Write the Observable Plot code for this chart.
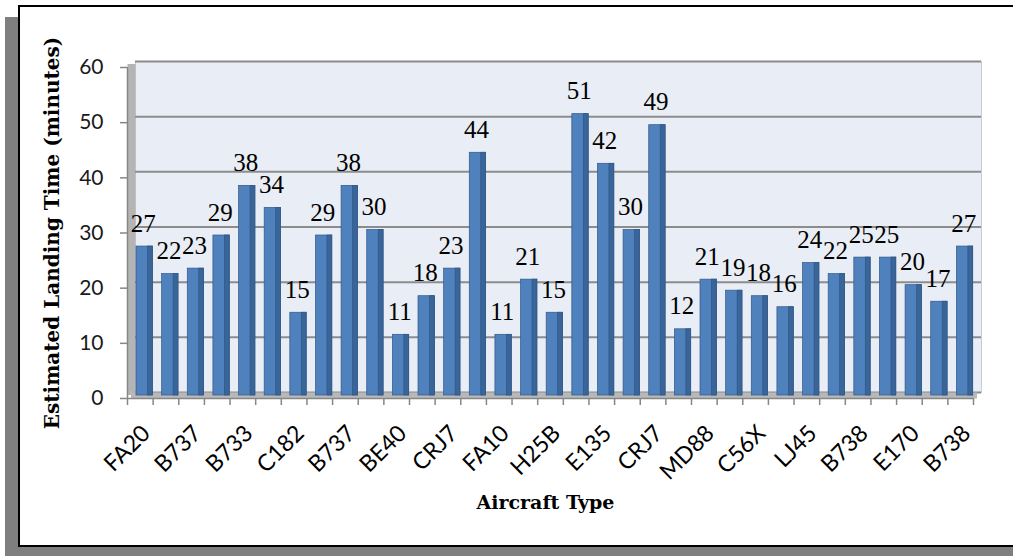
<!DOCTYPE html>
<html>
<head>
<meta charset="utf-8">
<script src="https://cdn.jsdelivr.net/npm/d3@7"></script>
<script src="https://cdn.jsdelivr.net/npm/@observablehq/plot@0.6"></script>
<style>
  html, body { margin: 0; padding: 0; background: #fff; }
  #wrap { position: relative; width: 1013px; height: 556px; overflow: hidden; }
  #shadow { position: absolute; left: 5px; top: 17px; width: 1200px; height: 700px; background: #7f7f7f; }
  #frame { position: absolute; left: 18px; top: 5px; width: 1200px; height: 538px; border: 2.5px solid #000; background: #fff; }
  #chart { position: absolute; left: 0; top: 0; }
</style>
</head>
<body>
<div id="wrap">
<div id="shadow"></div>
<div id="frame"></div>
<div id="chart"></div>
</div>
<script>
// Tick labels shown on every other bar (bars 1, 3, 5, ... 33)
const aircraftLabels = ["FA20","B737","B733","C182","B737","BE40","CRJ7","FA10","H25B","E135","CRJ7","MD88","C56X","LJ45","B738","E170","B738"];
// Estimated landing time (minutes), one value per bar
const landingMinutes = [27,22,23,29,38,34,15,29,38,30,11,18,23,44,11,21,15,51,42,30,49,12,21,19,18,16,24,22,25,25,20,17,27];
const yTicks = [0,10,20,30,40,50,60];
const yTitle = "Estimated Landing Time (minutes)";
const xTitle = "Aircraft Type";

const data = landingMinutes.map((v, i) => ({i, v}));
const n = landingMinutes.length;
const boundaryTicks = d3.range(n + 1);
const labelTicks = aircraftLabels.map((_, k) => 2 * k + 0.5);

const chart = Plot.plot({
  width: 1013,
  height: 556,
  marginLeft: 127,
  marginRight: 40,
  marginTop: 67,
  marginBottom: 158,
  style: {background: "transparent", fontFamily: "Lato", overflow: "visible"},
  x: {domain: [0, n], axis: null},
  y: {domain: [0, 60], axis: null},
  marks: [
    // back wall
    Plot.frame({fill: "#e9edf5", stroke: "#c9ccd2", dx: 8, dy: -6}),
    // side wall
    Plot.ruleX([0], {stroke: "#b4b4b4", strokeWidth: 8, dx: 4, dy: -3}),
    // gridlines on back wall
    Plot.ruleY(yTicks, {stroke: "#8c8c8c", strokeWidth: 2, dx: 8, dy: -6}),
    // floor
    Plot.ruleY([0], {stroke: "#b8b8b8", strokeWidth: 6, dx: 4, dy: -3}),
    // bars: front face
    Plot.rectY(data, {x1: "i", x2: d => d.i + 1, y: "v", insetLeft: 9, insetRight: 0.3, dy: -3,
      fill: "#4f81bd", stroke: "#2f578a", strokeWidth: 0.7}),
    // bars: side face
    Plot.rectY(data, {x1: "i", x2: d => d.i + 1, y: "v", insetLeft: 20.5, insetRight: 0.3, dy: -3,
      fill: "#3a6598", stroke: "#2f578a", strokeWidth: 0.7}),
    // axis lines
    Plot.ruleX([0], {stroke: "#868686", strokeWidth: 1.5}),
    Plot.ruleY([0], {stroke: "#868686", strokeWidth: 1.5}),
    Plot.axisY({ticks: yTicks, tickSize: 7, tickPadding: 17, fontSize: 21, fontFamily: "Lato",
      stroke: "#868686", strokeWidth: 1.5, fill: "#1a1a1a", label: null}),
    Plot.axisX({ticks: boundaryTicks, tickSize: 7, tickFormat: () => "", stroke: "#868686", strokeWidth: 1.5, label: null}),
    Plot.axisX({ticks: labelTicks, tickSize: 0, tickPadding: 31, tickRotate: -45, dx: 6,
      tickFormat: d => aircraftLabels[(d - 0.5) / 2], fontSize: 23, fontFamily: "Lato", fill: "#000", label: null}),
    // value labels
    Plot.text(data, {x: d => d.i + 0.5, y: "v", text: "v", dx: 3, dy: -26,
      fontSize: 25, fontFamily: "Liberation Serif", fill: "#000"}),
    // axis titles
    Plot.text([yTitle], {frameAnchor: "left", textAnchor: "middle", rotate: -90, dx: -75, fontSize: 20,
      fontWeight: "bold", fontFamily: "DejaVu Serif", fill: "#000"}),
    Plot.text([xTitle], {frameAnchor: "bottom", dx: -5, dy: 110, fontSize: 19,
      fontWeight: "bold", fontFamily: "DejaVu Serif", fill: "#000"})
  ]
});
document.getElementById("chart").appendChild(chart);
</script>
</body>
</html>
